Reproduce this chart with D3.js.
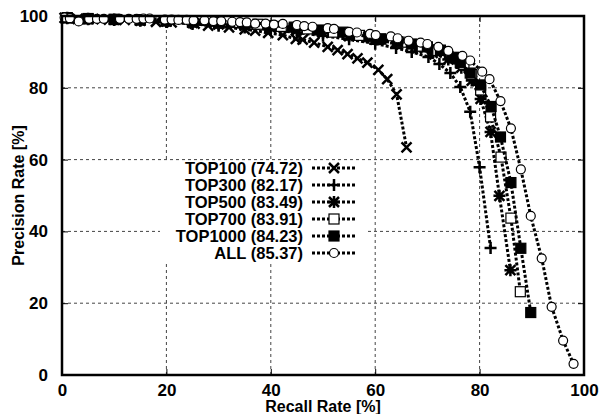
<!DOCTYPE html>
<html lang="en">
<head>
    <meta charset="utf-8">
    <title>Precision / Recall</title>
    <style>
        body { margin: 0; background: #fff; }
        text { font-family: "Liberation Sans", Arial, sans-serif; font-weight: bold; fill: #000; }
    </style>
</head>
<body>
<script src="https://cdn.jsdelivr.net/npm/d3@7/dist/d3.min.js"></script>
<script>
    // [recall, precision]
    const top100 = [[0.5,99.5],[3,99.2],[6,99.1],[9,99],[12,98.9],[15,98.7],[18,98.4],[21,98.2],[25.4,97.9],[28,97.3],[32,96.8],[35,96.3],[37,95.9],[39.5,95.3],[42.3,94.7],[44.8,93.6],[46.1,93.4],[48.3,92.6],[50.9,91.4],[52.8,90.5],[54.7,89.4],[56.6,88.2],[58.5,87],[60.6,85],[62.3,82.4],[64.1,78.2],[66,63.4]];
    const top300 = [[1,99.4],[5,99.1],[10,98.9],[15,98.7],[20,98.3],[25,97.8],[30,97.3],[35,96.8],[40,96.2],[45,95.4],[50,94.5],[55,93.5],[60,92.3],[64,91.1],[67,90],[70.2,88.6],[72.3,86.6],[74.4,84.1],[76.3,80.2],[78.2,73.3],[80,57.9],[82.1,35.4]];
    const top500 = [[1,99.5],[5,99.2],[10,99],[15,98.8],[20,98.5],[25,98.1],[30,97.7],[35,97.3],[40,96.7],[45,96.1],[50,95.3],[55,94.4],[60,93.4],[64,92.4],[68,91],[71,89.7],[74,87.9],[76.5,85.6],[78.5,82],[80.2,76.9],[82.1,67.7],[83.8,49.9],[85.9,29.2]];
    const top700 = [[1,99.5],[5,99.2],[10,99],[15,98.9],[20,98.6],[25,98.3],[30,98],[37.5,97.7],[42,97.1],[47,96.4],[52,95.5],[57,94.6],[61,93.6],[65,92.7],[69,91.6],[72,90.4],[75,88.5],[77,86.5],[78.5,83.7],[80.2,79.4],[82.1,71.9],[84.1,60.7],[86,43.7],[87.8,23.2]];
    const top1000 = [[1,99.5],[5,99.3],[10,99.1],[15,98.9],[20,98.7],[25,98.4],[30,98.1],[35,97.7],[40,97.3],[44.5,96.9],[49.2,96.1],[53.8,95.5],[58.8,94.2],[61.1,93.6],[64.3,92.8],[67,92.2],[70,91.4],[72.5,90.5],[74.8,88.3],[76.3,87],[78.2,84.1],[80.2,80.8],[82.2,74.8],[84,66.3],[86,53.6],[87.9,35.3],[89.8,17.4]];
    const all = [[0.5,99.6],[1.5,99.4],[3.2,98.5],[5.2,99.2],[6.7,99.2],[8,99.2],[11.1,99.2],[12.8,99.2],[14.3,99.2],[15.6,99.3],[16.8,99.3],[19.7,99],[21,99],[22.3,98.9],[23.9,98.9],[25.2,98.8],[27.3,98.8],[29,98.6],[30.5,98.6],[32.6,98.4],[34.1,98.3],[35.4,98.2],[37,97.9],[39,97.9],[40.6,97.6],[42.3,97.8],[45,97.5],[46.4,97.2],[48,97],[50.9,96.6],[52.1,96.4],[55,95.6],[56.5,95.4],[59,95],[60.1,94.7],[63,94.3],[64.3,93.8],[66.4,93.1],[68.7,92.6],[70,92.2],[72.1,91.4],[74,90.3],[76.7,88.9],[78.2,87.6],[80.5,84.5],[81.9,82.4],[84,76.3],[86,68.7],[87.9,57.3],[89.8,44.3],[91.9,32.5],[93.8,19],[96,9.6],[98,3.1]];

    const seriesNames = ["TOP100 (74.72)", "TOP300 (82.17)", "TOP500 (83.49)", "TOP700 (83.91)", "TOP1000 (84.23)", "ALL (85.37)"];
    const seriesData = [top100, top300, top500, top700, top1000, all];
    const seriesMarks = ["cross", "plus", "star", "square", "filled", "circle"];
    const ticks = [0, 20, 40, 60, 80, 100];

    const width = 602, height = 414;
    const margin = {top: 16, right: 18, bottom: 39, left: 62};

    const svg = d3.select("body").append("svg")
        .attr("width", width)
        .attr("height", height);

    const x = d3.scaleLinear().domain([0, 100]).range([margin.left, width - margin.right]);
    const y = d3.scaleLinear().domain([0, 100]).range([height - margin.bottom, margin.top]);

    // grid (dashed, only inner ticks)
    const grid = svg.append("g")
        .attr("stroke", "#444")
        .attr("stroke-width", 1)
        .attr("stroke-dasharray", "3,3");
    grid.selectAll(".gx").data(ticks.slice(1, -1)).join("line")
        .attr("x1", d => x(d)).attr("x2", d => x(d))
        .attr("y1", y(0)).attr("y2", y(100));
    grid.selectAll(".gy").data(ticks.slice(1, -1)).join("line")
        .attr("y1", d => y(d)).attr("y2", d => y(d))
        .attr("x1", x(0)).attr("x2", x(100));

    // axes, tick labels
    svg.append("g")
        .attr("transform", `translate(0,${y(0)})`)
        .call(d3.axisBottom(x).tickValues(ticks).tickSize(-6).tickPadding(9));
    svg.append("g")
        .attr("transform", `translate(${x(0)},0)`)
        .call(d3.axisLeft(y).tickValues(ticks).tickSize(-6).tickPadding(14));
    svg.append("g")
        .attr("transform", `translate(${x(100)},0)`)
        .call(d3.axisRight(y).tickValues(ticks).tickSize(-6).tickFormat(""));
    svg.append("g")
        .attr("transform", `translate(0,${y(100)})`)
        .call(d3.axisTop(x).tickValues(ticks).tickSize(-6).tickFormat(""));
    svg.selectAll(".domain").remove();
    svg.selectAll(".tick line").attr("stroke", "#000").attr("stroke-width", 1);
    svg.selectAll(".tick text")
        .attr("font-size", 17)
        .attr("font-family", "Liberation Sans, Arial, sans-serif")
        .attr("font-weight", "bold");

    // legend box (opaque, hides the grid)
    const legX = 303, legY0 = 168, legStep = 17;
    svg.append("rect")
        .attr("x", 160).attr("y", 161)
        .attr("width", 208).attr("height", 101)
        .attr("fill", "#fff");

    function drawMark(g, kind, px, py) {
        if (kind === "cross") {
            g.append("path").attr("d", `M${px-5},${py-5}L${px+5},${py+5}M${px-5},${py+5}L${px+5},${py-5}`)
                .attr("stroke", "#000").attr("stroke-width", 2.5);
        } else if (kind === "plus") {
            g.append("path").attr("d", `M${px-6},${py}L${px+6},${py}M${px},${py-6}L${px},${py+6}`)
                .attr("stroke", "#000").attr("stroke-width", 2.5);
        } else if (kind === "star") {
            g.append("path").attr("d", `M${px-5},${py-5}L${px+5},${py+5}M${px-5},${py+5}L${px+5},${py-5}M${px-6},${py}L${px+6},${py}M${px},${py-6}L${px},${py+6}`)
                .attr("stroke", "#000").attr("stroke-width", 2.5);
        } else if (kind === "square" || kind === "filled") {
            g.append("rect").attr("x", px - 5).attr("y", py - 5).attr("width", 10).attr("height", 10)
                .attr("fill", kind === "filled" ? "#000" : "#fff")
                .attr("stroke", "#000").attr("stroke-width", 1.2);
        } else {
            g.append("circle").attr("cx", px).attr("cy", py).attr("r", 4.5)
                .attr("fill", "#fff").attr("stroke", "#000").attr("stroke-width", 1.2);
        }
    }

    const line = d3.line().x(d => x(d[0])).y(d => y(d[1]));

    seriesData.forEach((data, i) => {
        const g = svg.append("g");
        g.append("path")
            .attr("d", line(data))
            .attr("fill", "none")
            .attr("stroke", "#000")
            .attr("stroke-width", 3)
            .attr("stroke-dasharray", "3,2");
        data.forEach(d => drawMark(g, seriesMarks[i], x(d[0]), y(d[1])));

        // legend row
        const ly = legY0 + i * legStep;
        g.append("text")
            .attr("x", legX).attr("y", ly)
            .attr("dy", "0.36em")
            .attr("text-anchor", "end")
            .attr("font-size", 16.5)
            .text(seriesNames[i]);
        g.append("line")
            .attr("x1", legX + 9).attr("x2", legX + 53)
            .attr("y1", ly).attr("y2", ly)
            .attr("stroke", "#000").attr("stroke-width", 3)
            .attr("stroke-dasharray", "3,2");
        drawMark(g, seriesMarks[i], legX + 31, ly);
    });

    // frame
    svg.append("rect")
        .attr("x", x(0)).attr("y", y(100))
        .attr("width", x(100) - x(0)).attr("height", y(0) - y(100))
        .attr("fill", "none").attr("stroke", "#000").attr("stroke-width", 2.5);

    // axis titles
    svg.append("text")
        .attr("x", (x(0) + x(100)) / 2).attr("y", 412)
        .attr("text-anchor", "middle")
        .attr("font-size", 16)
        .text("Recall Rate [%]");
    svg.append("text")
        .attr("transform", `translate(24,${(y(0) + y(100)) / 2}) rotate(-90)`)
        .attr("text-anchor", "middle")
        .attr("font-size", 16)
        .text("Precision Rate [%]");
</script>
</body>
</html>
